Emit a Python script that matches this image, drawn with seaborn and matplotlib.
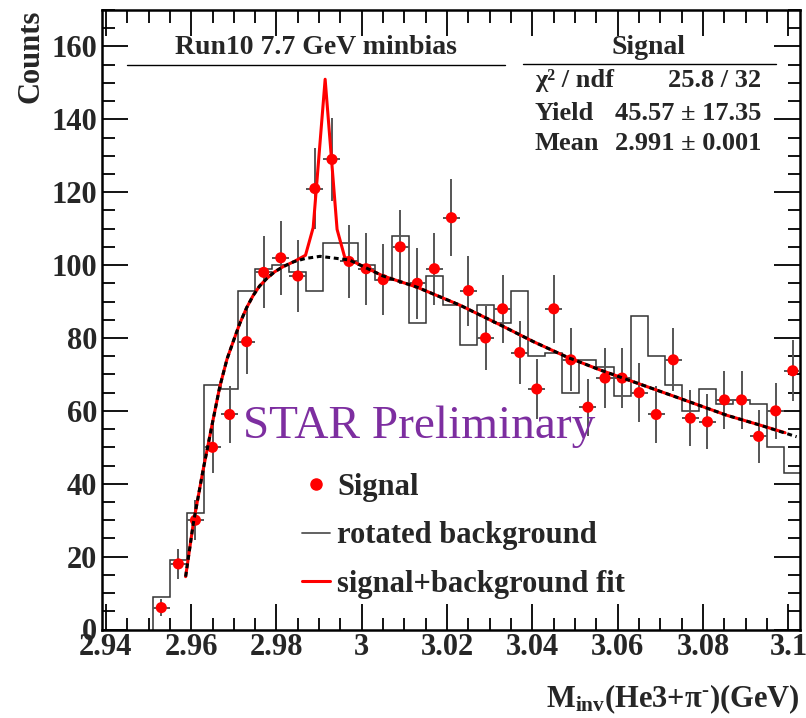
"""
Hypertriton invariant mass (He3 + pi-) -- Run10 7.7 GeV minbias
Signal points, rotated background histogram and signal+background fit
"""

import numpy as np
import matplotlib.pyplot as plt
import seaborn as sns
from matplotlib.lines import Line2D

# ---- data ----
BIN_WIDTH = 0.004
BIN_LO = 2.951          # lower edge of first bin
N_BINS = 38

signal_counts = [6, 18, 30, 50, 59, 79, 98, 102, 97, 121, 129, 101, 99, 96, 105,
                 95, 99, 113, 93, 80, 88, 76, 66, 88, 74, 61, 69, 69, 65, 59,
                 74, 58, 57, 63, 63, 53, 60, 71]
signal_errors = [2.4, 4.2, 5.5, 7.1, 7.7, 8.9, 9.9, 10.1, 9.8, 11.0, 11.4, 10.0,
                 9.9, 9.8, 10.2, 9.7, 9.9, 10.6, 9.6, 8.9, 9.4, 8.7, 8.1, 9.4,
                 8.6, 7.8, 8.3, 8.3, 8.1, 7.7, 8.6, 7.6, 7.5, 7.9, 7.9, 7.3,
                 7.7, 8.4]
rotated_bg = [9, 19, 32, 67, 66, 93, 99, 100, 98, 93, 106, 106, 100, 96, 108,
              84, 97, 89, 78, 89, 84, 93, 75, 76, 65, 74, 72, 64, 86, 75,
              67, 60, 66, 62, 63, 62, 50, 43]

# background fit (dashed black)
bgfit_x = [2.9587, 2.9605, 2.9628, 2.9648, 2.9667, 2.9684, 2.9700, 2.9714,
           2.9730, 2.9745, 2.9760, 2.9777, 2.9795, 2.9816, 2.9840, 2.9867,
           2.9902, 2.9971, 3.0050, 3.0128, 3.0230, 3.0324, 3.0402, 3.0480,
           3.0559, 3.0636, 3.0746, 3.0855, 3.0933, 3.1019]
bgfit_y = [14.5, 29.1, 43.8, 55.6, 66.6, 74.2, 79.5, 84.0, 88.3, 91.6, 94.2,
           96.3, 98.1, 99.6, 100.9, 101.8, 102.4, 101.4, 97.0, 94.0, 89.0,
           83.6, 79.0, 74.8, 71.2, 68.0, 63.4, 58.8, 56.1, 52.9]

# signal + background fit (solid red)
fit_x = [2.9587, 2.9605, 2.9628, 2.9648, 2.9667, 2.9684, 2.9700, 2.9714,
         2.9730, 2.9745, 2.9760, 2.9777, 2.9795, 2.9816, 2.9840, 2.9868,
         2.9886, 2.9914, 2.9942, 2.9960, 3.0050, 3.0128, 3.0230, 3.0324,
         3.0402, 3.0480, 3.0559, 3.0636, 3.0746, 3.0855, 3.0933, 3.0992]
fit_y = [14.5, 29.1, 43.8, 55.6, 66.6, 74.2, 79.5, 84.0, 88.3, 91.6, 94.2,
         96.3, 98.1, 99.6, 100.9, 102.7, 110.3, 151.0, 109.8, 102.1, 97.0,
         94.0, 89.0, 83.6, 79.0, 74.8, 71.2, 68.0, 63.4, 58.8, 56.1, 54.0]

x_ticks = [2.94, 2.96, 2.98, 3.00, 3.02, 3.04, 3.06, 3.08, 3.10]
x_tick_labels = ['2.94', '2.96', '2.98', '3', '3.02', '3.04', '3.06', '3.08', '3.1']
y_ticks = [0, 20, 40, 60, 80, 100, 120, 140, 160]

stats_rows = [('χ² / ndf', '25.8 / 32'),
              ('Yield', '45.57 ± 17.35'),
              ('Mean', '2.991 ± 0.001')]

# ---- style ----
sns.set_theme(style='ticks')
plt.rcParams['font.family'] = ['Liberation Serif', 'DejaVu Serif']
plt.rcParams['font.weight'] = 'bold'
plt.rcParams['axes.labelweight'] = 'bold'
plt.rcParams['mathtext.fontset'] = 'custom'
plt.rcParams['mathtext.rm'] = 'Liberation Serif:bold'
plt.rcParams['mathtext.bf'] = 'Liberation Serif:bold'
plt.rcParams['mathtext.it'] = 'Liberation Serif:bold'

RED = '#ff0000'
ERR = '#555555'
HIST = '#333333'
PURPLE = '#7d2ea0'
FS = 22


def main():
    edges = BIN_LO + BIN_WIDTH * np.arange(N_BINS + 1)
    centers = edges[:-1] + BIN_WIDTH / 2

    fig = plt.figure(figsize=(8.06, 7.18), dpi=100)
    ax = fig.add_axes([102 / 806, 1 - 629.5 / 718, 698 / 806, 619.5 / 718])

    # rotated background histogram
    ax.stairs(rotated_bg, edges, baseline=0, color=HIST, lw=1.1, zorder=2)

    # signal points with errors
    ax.errorbar(centers, signal_counts, yerr=signal_errors, xerr=BIN_WIDTH / 2,
                fmt='none', ecolor=ERR, elinewidth=1.4, capsize=0, zorder=3)
    sns.scatterplot(x=centers, y=signal_counts, color=RED, s=64,
                    edgecolor='none', ax=ax, zorder=4)

    # fits
    sns.lineplot(x=fit_x, y=fit_y, sort=False, estimator=None, color=RED,
                 lw=2.2, ax=ax, zorder=5)
    sns.lineplot(x=bgfit_x, y=bgfit_y, sort=False, estimator=None,
                 color='black', lw=2.2, dashes=False, ax=ax, zorder=6)
    ax.lines[-1].set_dashes((1.6, 1.2))

    ax.set_xlim(2.9391, 3.1027)
    ax.set_ylim(0, 170)
    ax.set_xticks(x_ticks)
    ax.set_xticklabels(x_tick_labels)
    ax.set_yticks(y_ticks)
    ax.set_yticklabels([str(v) for v in y_ticks])
    ax.set_xticks(np.arange(2.94, 3.1026, 0.005), minor=True)
    ax.set_yticks(np.arange(0, 171, 5), minor=True)
    ax.tick_params(which='both', direction='in', top=True, right=True,
                   color='black', labelsize=FS)
    ax.tick_params(which='major', length=19, width=1.3)
    ax.tick_params(which='minor', length=9, width=1.3)
    ax.tick_params(axis='x', pad=2.5)
    ax.tick_params(axis='y', pad=3.5)
    for sp in ax.spines.values():
        sp.set_linewidth(1.8)
        sp.set_color('black')

    ax.set_ylabel('Counts', fontsize=FS, fontweight='bold', loc='top')
    ax.yaxis.set_label_coords(-0.081, 1.0)
    ax.set_xlabel(r'M$_{\rm inv}$(He3+π$^{\text{-}}$)(GeV)', fontsize=22,
                  fontweight='bold', loc='right')
    ax.xaxis.set_label_coords(1.0, -0.086)

    # header boxes
    ax.text(0.3066, 0.940, 'Run10 7.7 GeV minbias', transform=ax.transAxes,
            ha='center', va='center', fontsize=20)
    ax.plot([0.0358, 0.577], [0.911, 0.911], transform=ax.transAxes,
            color='black', lw=1.0)
    ax.text(0.7834, 0.940, 'Signal', transform=ax.transAxes,
            ha='center', va='center', fontsize=20)
    ax.plot([0.603, 0.9656], [0.9128, 0.9128], transform=ax.transAxes,
            color='black', lw=1.0)
    for (name, val), ya in zip(stats_rows, [0.887, 0.8337, 0.785]):
        ax.text(0.6203, ya, name, transform=ax.transAxes, ha='left',
                va='center', fontsize=19)
        ax.text(0.945, ya, val, transform=ax.transAxes, ha='right',
                va='center', fontsize=19)

    ax.text(0.202, 0.309, 'STAR Preliminary', transform=ax.transAxes,
            ha='left', va='baseline', fontsize=34, fontweight='normal',
            color=PURPLE)

    handles = [Line2D([], [], marker='o', ls='none', color=RED, markersize=8),
               Line2D([], [], color='#555555', lw=1.3),
               Line2D([], [], color=RED, lw=2.2)]
    labels = ['Signal', 'rotated background', 'signal+background fit']
    ax.legend(handles, labels, loc='upper left', bbox_to_anchor=(0.2865, 0.253),
              frameon=False, fontsize=22, handlelength=0.92, handletextpad=0.24,
              labelspacing=0.64, borderpad=0, borderaxespad=0, numpoints=1)

    fig.savefig('out.png', dpi=100, facecolor='white')


if __name__ == '__main__':
    main()
